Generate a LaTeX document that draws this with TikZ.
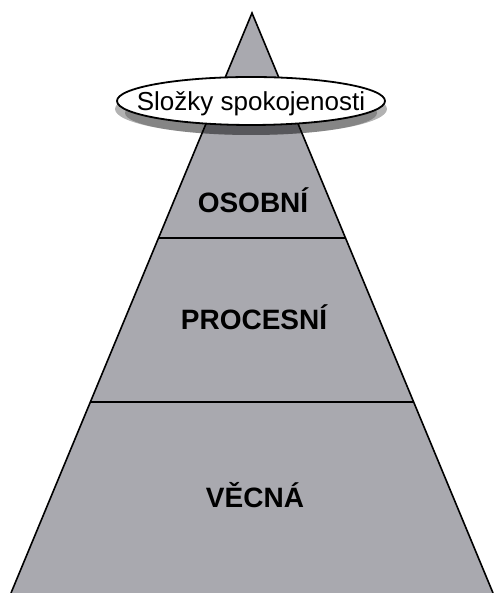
\documentclass[tikz,border=0pt]{standalone}
\usepackage{fontspec}
\setmainfont{Liberation Sans}
\usetikzlibrary{shapes.geometric}
\definecolor{pyrgray}{HTML}{A9A9AF}
\begin{document}
\begin{tikzpicture}[x=1pt,y=1pt,
  layer/.style={font=\fontsize{28}{30}\selectfont\bfseries, anchor=base, inner sep=0pt},
  badge/.style={ellipse, draw=black, line width=1.8pt, fill=white, minimum width=268pt, minimum height=48pt, inner sep=0pt},
  edge/.style={line width=1.6pt, black}]
\useasboundingbox (0,0) rectangle (496,593);
\coordinate (apex) at (252,580);
\coordinate (bl) at (11,0);
\coordinate (br) at (493,0);
\coordinate (l1) at (158.6,355);
\coordinate (r1) at (345.4,355);
\coordinate (l2) at (90.6,191);
\coordinate (r2) at (413.4,191);
\fill[pyrgray] (apex) -- (bl) -- (br) -- cycle;
\draw[edge] (l1) -- (r1);
\draw[edge] (l2) -- (r2);
\draw[edge, line join=miter] (bl) -- (apex) -- (br);
\fill[black, opacity=0.3] (251,484) ellipse [x radius=136pt, y radius=26pt];
\fill[black, opacity=0.25] (251,480) ellipse [x radius=126pt, y radius=22pt];
\node[badge] (badge) at (251,492) {};
\node[font=\fontsize{26}{30}\selectfont, anchor=base, inner sep=0pt] (title) at (251,482) {Složky spokojenosti};
\node[layer] (osobni) at (253,380) {OSOBNÍ};
\node[layer] (procesni) at (254,263) {PROCESNÍ};
\node[layer] (vecna) at (255,85) {VĚCNÁ};
\end{tikzpicture}
\end{document}
